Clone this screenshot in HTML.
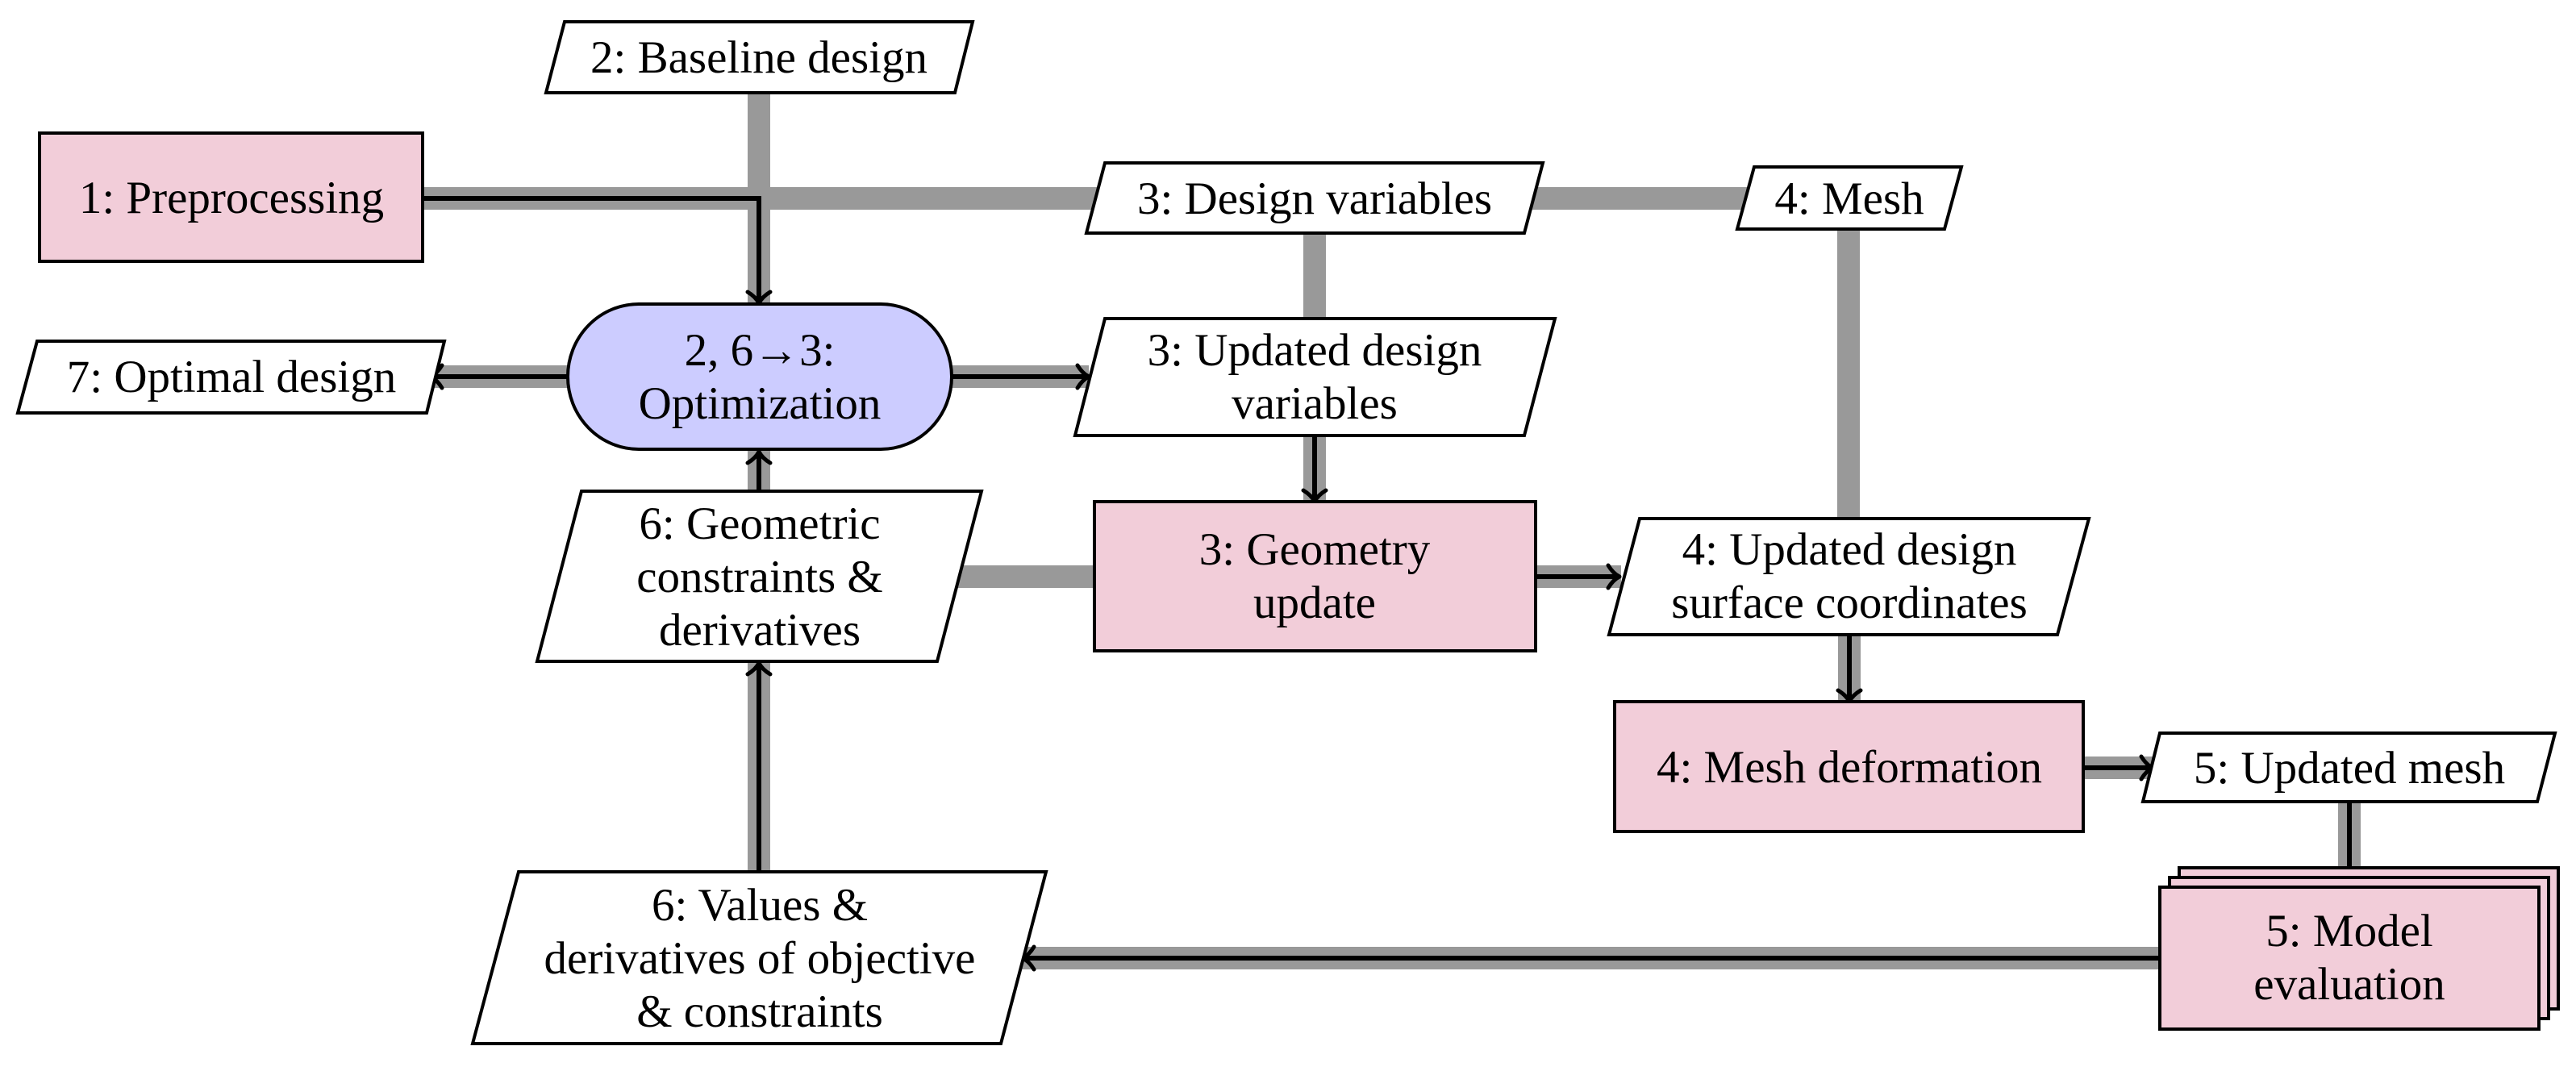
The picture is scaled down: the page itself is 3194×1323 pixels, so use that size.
<!DOCTYPE html>
<html><head><meta charset="utf-8"><style>
html,body{margin:0;padding:0;background:#fff;}
svg{display:block;}
text{font-family:"Liberation Serif",serif;font-size:57px;fill:#000;text-anchor:middle;}
</style></head><body>
<svg width="3194" height="1323" viewBox="0 0 3194 1323" xmlns="http://www.w3.org/2000/svg">
<g stroke="#999" stroke-width="28" fill="none">
<line x1="524" y1="246" x2="2170" y2="246"/>
<line x1="941" y1="110" x2="941" y2="380"/>
<line x1="1630" y1="285" x2="1630" y2="625"/>
<line x1="2292" y1="280" x2="2292" y2="650"/>
<line x1="529" y1="467" x2="710" y2="467"/>
<line x1="1175" y1="467" x2="1350" y2="467"/>
<line x1="941" y1="550" x2="941" y2="612"/>
<line x1="941" y1="815" x2="941" y2="1085"/>
<line x1="1180" y1="715" x2="1360" y2="715"/>
<line x1="1900" y1="715" x2="2010" y2="715"/>
<line x1="2293" y1="785" x2="2293" y2="872"/>
<line x1="2580" y1="952" x2="2670" y2="952"/>
<line x1="2913" y1="990" x2="2913" y2="1080"/>
<line x1="1265" y1="1188" x2="2680" y2="1188"/>
</g>
<g stroke="#000" stroke-width="6" fill="none">
<polyline points="524,246 941,246 941,374"/>
<line x1="704" y1="467" x2="536" y2="467"/>
<line x1="1180" y1="467" x2="1346" y2="467"/>
<line x1="1630" y1="540" x2="1630" y2="618"/>
<line x1="941" y1="609" x2="941" y2="562"/>
<line x1="941" y1="1081" x2="941" y2="824"/>
<line x1="1904" y1="715" x2="2004" y2="715"/>
<line x1="2293" y1="787" x2="2293" y2="866"/>
<line x1="2583" y1="952" x2="2665" y2="952"/>
<line x1="2913" y1="994" x2="2913" y2="1080"/>
<line x1="2678" y1="1188" x2="1272" y2="1188"/>
</g>
<g stroke="#000" stroke-width="5" fill="none" stroke-linecap="round" stroke-linejoin="round">
<path d="M927,362 Q937,368 941,376 Q945,368 955,362"/>
<path d="M548,453 Q542,463 534,467 Q542,471 548,481"/>
<path d="M1336,453 Q1342,463 1350,467 Q1342,471 1336,481"/>
<path d="M1616,608 Q1626,614 1630,622 Q1634,614 1644,608"/>
<path d="M927,574 Q937,568 941,560 Q945,568 955,574"/>
<path d="M927,836 Q937,830 941,822 Q945,830 955,836"/>
<path d="M1994,701 Q2000,711 2008,715 Q2000,719 1994,729"/>
<path d="M2279,856 Q2289,862 2293,870 Q2297,862 2307,856"/>
<path d="M2655,938 Q2661,948 2669,952 Q2661,956 2655,966"/>
<path d="M1282,1174 Q1276,1184 1268,1188 Q1276,1192 1282,1202"/>
</g>
<g stroke="#000" stroke-width="4">
<rect x="49" y="165" width="475" height="159" fill="#f2cdd9"/>
<rect x="1357" y="622" width="547" height="185" fill="#f2cdd9"/>
<rect x="2002" y="870" width="581" height="161" fill="#f2cdd9"/>
<rect x="2702" y="1076" width="470" height="175" fill="#f2cdd9"/>
<rect x="2690" y="1088" width="470" height="175" fill="#f2cdd9"/>
<rect x="2678" y="1100" width="470" height="176" fill="#f2cdd9"/>
<rect x="704" y="377" width="476" height="180" rx="88" ry="90" fill="#ccccff"/>
<g fill="#fff">
<polygon points="700,27 1206,27 1184,115 677,115"/>
<polygon points="1370,202 1913,202 1890,289 1347,289"/>
<polygon points="2175,207 2432,207 2411,284 2154,284"/>
<polygon points="46,423 551,423 529,512 22,512"/>
<polygon points="1370,395 1928,395 1890,540 1333,540"/>
<polygon points="721,609 1217,609 1162,820 666,820"/>
<polygon points="2033,643 2590,643 2551,787 1995,787"/>
<polygon points="2678,909 3168,909 3146,994 2657,994"/>
<polygon points="643,1081 1297,1081 1241,1294 586,1294"/>
</g>
</g>
<text x="941" y="90">2: Baseline design</text>
<text x="287" y="264">1: Preprocessing</text>
<text x="1630" y="265">3: Design variables</text>
<text x="2293" y="265">4: Mesh</text>
<text x="942" y="453">2, 6→3:</text>
<text x="942" y="519">Optimization</text>
<text x="287" y="486">7: Optimal design</text>
<text x="1630" y="453">3: Updated design</text>
<text x="1630" y="519">variables</text>
<text x="942" y="668">6: Geometric</text>
<text x="942" y="734">constraints &amp;</text>
<text x="942" y="800">derivatives</text>
<text x="1630" y="700">3: Geometry</text>
<text x="1630" y="766">update</text>
<text x="2293" y="700">4: Updated design</text>
<text x="2293" y="766">surface coordinates</text>
<text x="2293" y="970">4: Mesh deformation</text>
<text x="2913" y="971">5: Updated mesh</text>
<text x="2913" y="1173">5: Model</text>
<text x="2913" y="1239">evaluation</text>
<text x="942" y="1141">6: Values &amp;</text>
<text x="942" y="1207">derivatives of objective</text>
<text x="942" y="1273">&amp; constraints</text>
</svg>
</body></html>
